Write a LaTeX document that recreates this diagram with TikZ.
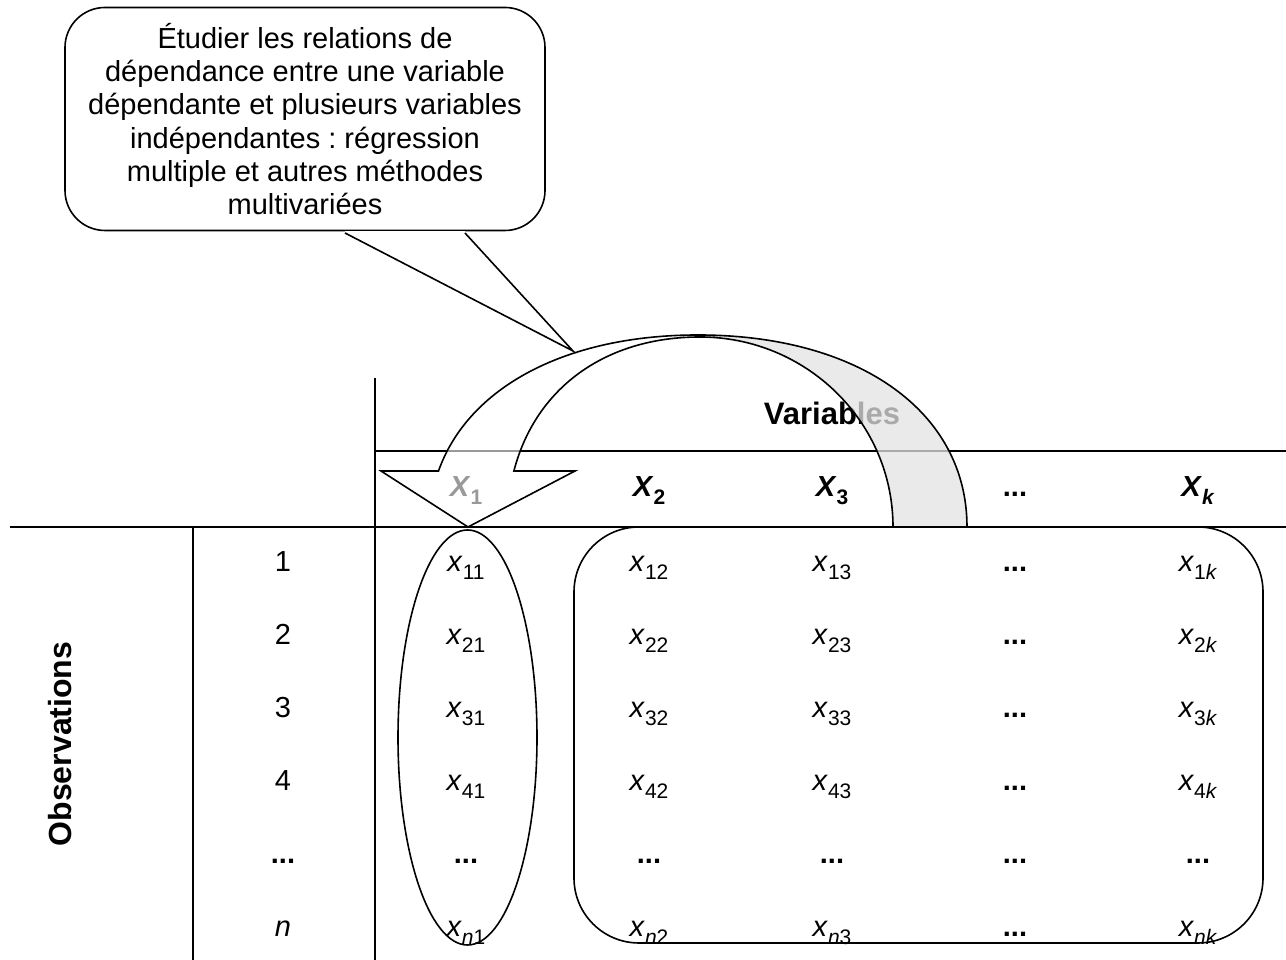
\documentclass[tikz,border=0pt]{standalone}
\usepackage{fontspec}
\setmainfont{Liberation Sans}
\usetikzlibrary{positioning, shapes.geometric}
\frenchspacing
\newcommand{\tabfont}{\fontsize{29}{33.3}\selectfont}
\newcommand{\sbs}[1]{\raisebox{-8pt}{\fontsize{21}{21}\selectfont #1}}
\newcommand{\xv}[2]{\textit{x}\sbs{#1#2}}
\newcommand{\Xv}[1]{\textbf{\textit{X}\sbs{#1}}}
\newcommand{\dts}{\textbf{...}}

\begin{document}
\begin{tikzpicture}[
    x=1pt, y=1pt,
    node distance=73pt and 183pt, on grid,
    cell/.style={font=\tabfont, text height=21pt, text depth=7pt, inner sep=0pt},
    hdr/.style={cell, font=\tabfont\bfseries},
    lbl/.style={font=\fontsize{32}{36}\selectfont\bfseries, inner sep=0pt},
    rule/.style={line width=2.2pt},
    outl/.style={line width=1.6pt},
    bubble/.style={draw, outl, fill=white, rounded corners=40pt,
                   minimum width=480pt, minimum height=223pt,
                   align=center, font=\tabfont, inner sep=0pt},
    front/.style={draw, outl, fill=white, fill opacity=0.6},
    back/.style={draw, outl, fill=black!11, fill opacity=0.75}
  ]
  \useasboundingbox (0,0) rectangle (1286,960);

  % table rules
  \draw[rule] (10,433) -- (1286,433);
  \draw[rule] (375,509) -- (1286,509);
  \draw[rule] (193,433) -- (193,0);
  \draw[rule] (375,582) -- (375,0);

  % observations
  \node[lbl, rotate=90] (obs) at (60,216) {Observations};
  \node[cell] (r1) at (283,395) {1};
  \node[cell, below=of r1] (r2) {2};
  \node[cell, below=of r2] (r3) {3};
  \node[cell, below=of r3] (r4) {4};
  \node[cell, below=of r4] (r5) {\dts};
  \node[cell, below=of r5] (r6) {\textit{n}};

  % values
  \node[cell, right=of r1]  (x11) {\xv{1}{1}};
  \node[cell, right=of x11] (x12) {\xv{1}{2}};
  \node[cell, right=of x12] (x13) {\xv{1}{3}};
  \node[cell, right=of x13] (x14) {\dts};
  \node[cell, right=of x14] (x15) {\xv{1}{\textit{k}}};

  \node[cell, right=of r2]  (x21) {\xv{2}{1}};
  \node[cell, right=of x21] (x22) {\xv{2}{2}};
  \node[cell, right=of x22] (x23) {\xv{2}{3}};
  \node[cell, right=of x23] (x24) {\dts};
  \node[cell, right=of x24] (x25) {\xv{2}{\textit{k}}};

  \node[cell, right=of r3]  (x31) {\xv{3}{1}};
  \node[cell, right=of x31] (x32) {\xv{3}{2}};
  \node[cell, right=of x32] (x33) {\xv{3}{3}};
  \node[cell, right=of x33] (x34) {\dts};
  \node[cell, right=of x34] (x35) {\xv{3}{\textit{k}}};

  \node[cell, right=of r4]  (x41) {\xv{4}{1}};
  \node[cell, right=of x41] (x42) {\xv{4}{2}};
  \node[cell, right=of x42] (x43) {\xv{4}{3}};
  \node[cell, right=of x43] (x44) {\dts};
  \node[cell, right=of x44] (x45) {\xv{4}{\textit{k}}};

  \node[cell, right=of r5]  (x51) {\dts};
  \node[cell, right=of x51] (x52) {\dts};
  \node[cell, right=of x52] (x53) {\dts};
  \node[cell, right=of x53] (x54) {\dts};
  \node[cell, right=of x54] (x55) {\dts};

  \node[cell, right=of r6]  (x61) {\xv{\textit{n}}{1}};
  \node[cell, right=of x61] (x62) {\xv{\textit{n}}{2}};
  \node[cell, right=of x62] (x63) {\xv{\textit{n}}{3}};
  \node[cell, right=of x63] (x64) {\dts};
  \node[cell, right=of x64] (x65) {\xv{\textit{n}}{\textit{k}}};

  % variables
  \node[hdr, above=75pt of x11] (h1) {\Xv{1}};
  \node[hdr, right=of h1] (h2) {\Xv{2}};
  \node[hdr, right=of h2] (h3) {\Xv{3}};
  \node[hdr, right=of h3] (h4) {\dts};
  \node[hdr, right=of h4] (h5) {\Xv{\textit{k}}};
  \node[hdr, font=\fontsize{31}{36}\selectfont\bfseries,
        above=72pt of h3] (vars) {Variables};

  % groups
  \node[draw, outl, ellipse, minimum width=139pt, minimum height=415pt,
        inner sep=0pt] (dep) at (467.5,222.5) {};
  \node[draw, outl, rounded corners=65pt, minimum width=689pt,
        minimum height=416pt, inner sep=0pt] (indep) at (918.5,225) {};

  % callout
  \node[bubble] (note) at (305,841) {Étudier les relations de\\dépendance entre une variable\\dépendante et plusieurs variables\\indépendantes : régression\\multiple et autres méthodes\\multivariées};
  \coordinate (tl) at (345,727);
  \coordinate (tr) at (465,727);
  \coordinate (tip) at (573,609);
  \fill[white] ([yshift=-2pt]tl) rectangle ([yshift=2pt]tr);
  \draw[outl] (tl) -- (tip) -- (tr);

  % curved arrow
  \draw[back] (698,625) .. controls (859.4,625) and (967,548.2) .. (967,433)
    -- (893,433) .. controls (893,538) and (806.5,623) .. (700,623) -- cycle;
  \draw[front] (438.5,489) .. controls (468.1,572.5) and (565.3,625) .. (698,625)
    -- (700,623) .. controls (604.5,623) and (535.2,571.3) .. (513.9,489)
    -- (575,489) -- (468,433) -- (381,489) -- cycle;
\end{tikzpicture}
\end{document}
